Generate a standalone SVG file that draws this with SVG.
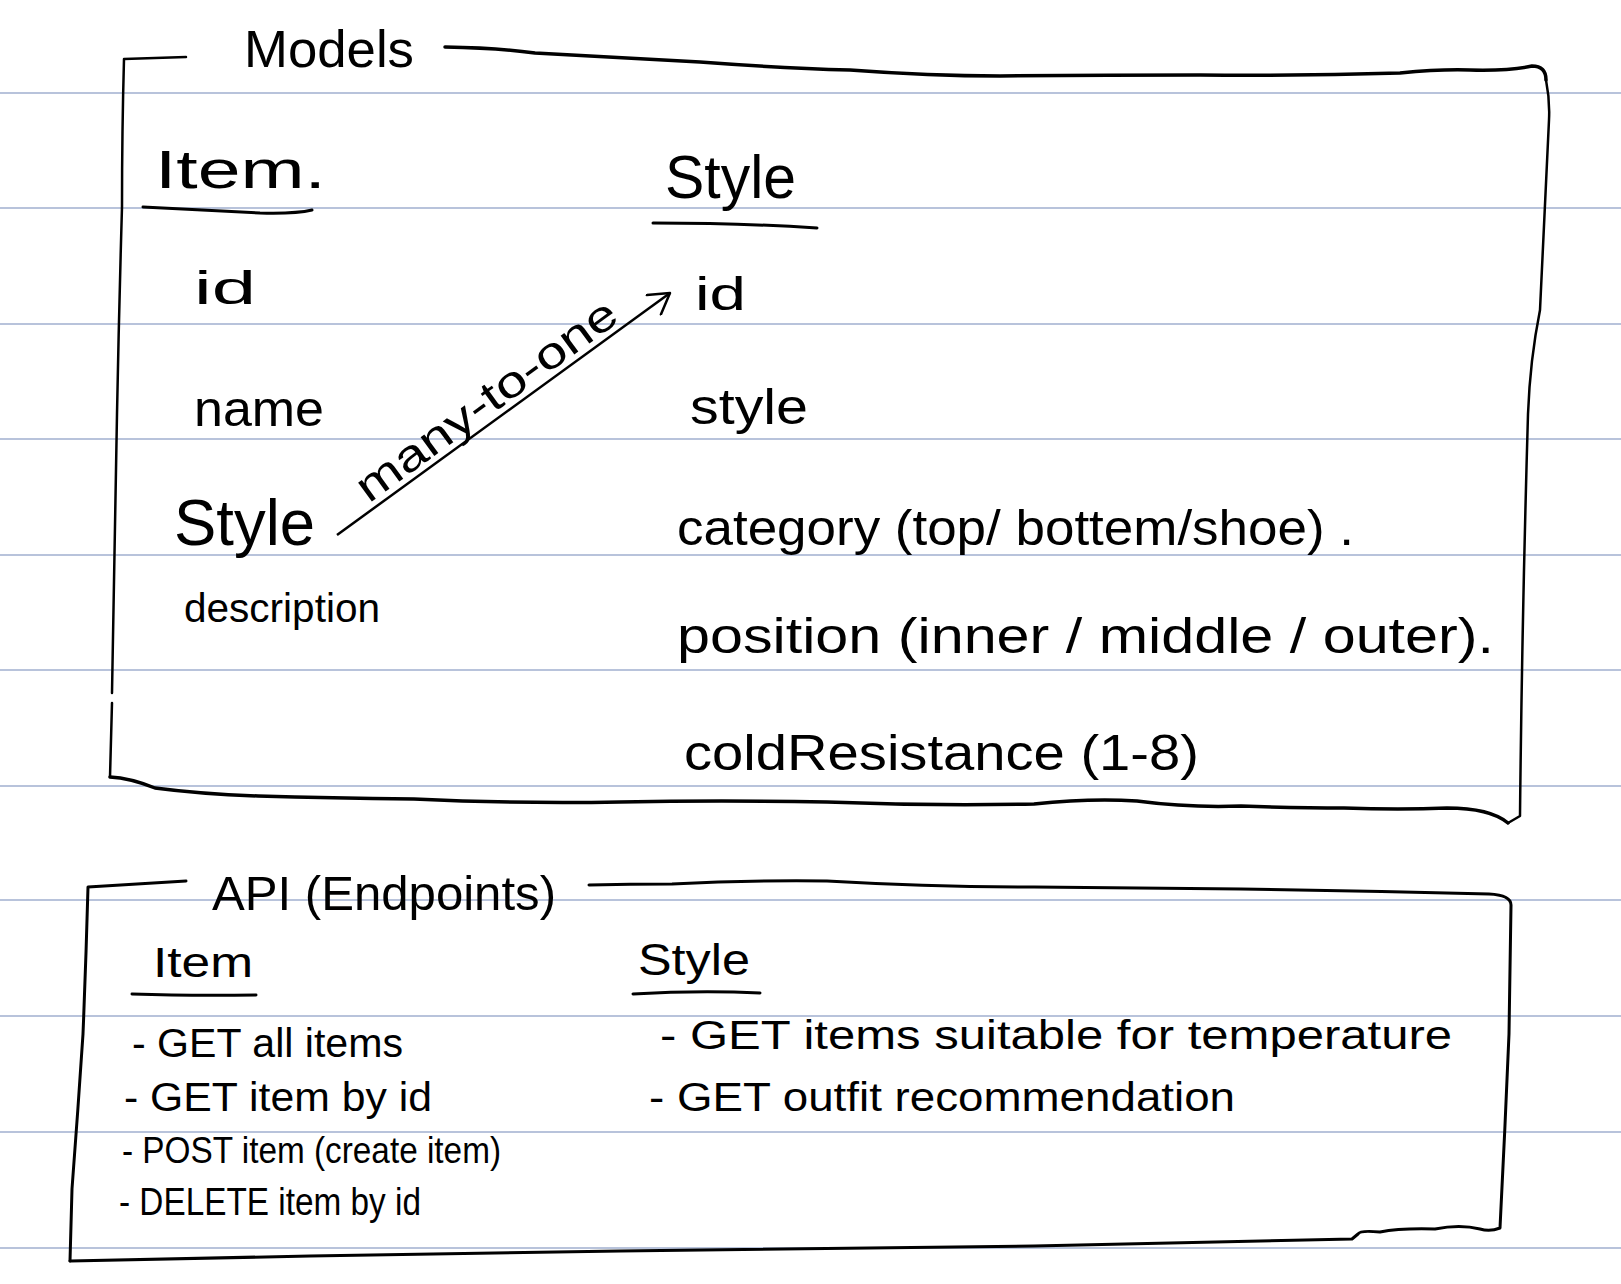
<svg xmlns="http://www.w3.org/2000/svg" width="1621" height="1284" viewBox="0 0 1621 1284">
<style>
.rule{stroke:#b8c3db;stroke-width:2}
.frame{fill:none;stroke:#000;stroke-linecap:round;stroke-linejoin:round}
.t{font-family:"Liberation Sans","DejaVu Sans",sans-serif;fill:#000}
.ul{fill:none;stroke:#000;stroke-width:3;stroke-linecap:round}
</style>
<defs>
<marker id="open" viewBox="0 0 26 26" refX="24" refY="13" markerWidth="26" markerHeight="26" markerUnits="userSpaceOnUse" orient="auto">
<path d="M4,1 L24,13 L4,25" fill="none" stroke="#000" stroke-width="2.5" stroke-linecap="round" stroke-linejoin="round"/>
</marker>
</defs>
<rect width="1621" height="1284" fill="#fff"/>
<g id="ruled-lines">
<line class="rule" x1="0" y1="93" x2="1621" y2="93"/>
<line class="rule" x1="0" y1="208" x2="1621" y2="208"/>
<line class="rule" x1="0" y1="324" x2="1621" y2="324"/>
<line class="rule" x1="0" y1="439" x2="1621" y2="439"/>
<line class="rule" x1="0" y1="555" x2="1621" y2="555"/>
<line class="rule" x1="0" y1="670" x2="1621" y2="670"/>
<line class="rule" x1="0" y1="786" x2="1621" y2="786"/>
<line class="rule" x1="0" y1="900" x2="1621" y2="900"/>
<line class="rule" x1="0" y1="1016" x2="1621" y2="1016"/>
<line class="rule" x1="0" y1="1132" x2="1621" y2="1132"/>
<line class="rule" x1="0" y1="1248" x2="1621" y2="1248"/>
</g>
<g id="models">
<path class="frame" stroke-width="2.5" d="M186,57 L124,59 Q122,130 122,207 Q119,310 117,414 Q114,560 112,693"/>
<path class="frame" stroke-width="2.5" d="M112,703 Q111,740 110,777"/>
<path class="frame" stroke-width="3.5" d="M445,47 Q500,48 535,53 Q620,58 700,62 Q780,68 850,70 Q930,76 1000,76 Q1100,75 1200,75 Q1300,76 1400,73 Q1440,69 1470,70 Q1510,71 1532,66 Q1546,66 1546,80"/>
<path class="frame" stroke-width="2.5" d="M1546,80 Q1550,100 1549,120 Q1545,210 1540,310 Q1530,360 1528,414 Q1522,620 1520,816 L1508,823"/>
<path class="frame" stroke-width="3.5" d="M110,777 Q130,778 155,788 Q200,794 258,796 Q330,798 414,799 Q520,804 620,802 Q720,800 827,802 Q930,806 1034,804 Q1090,798 1137,801 Q1190,808 1241,806 Q1300,808 1344,808 Q1400,810 1447,808 Q1490,808 1508,823"/>
<text class="t" x="244" y="67" font-size="52" textLength="170" lengthAdjust="spacingAndGlyphs">Models</text>
</g>
<g id="item-model">
<text class="t" x="155" y="188" font-size="54" textLength="171" lengthAdjust="spacingAndGlyphs">Item.</text>
<path class="ul" d="M143,207 Q200,210 260,213 Q295,214 312,210"/>
<text class="t" x="194" y="304" font-size="46" textLength="62" lengthAdjust="spacingAndGlyphs">id</text>
<text class="t" x="194" y="426" font-size="50" textLength="130" lengthAdjust="spacingAndGlyphs">name</text>
<text class="t" x="174" y="545" font-size="64" textLength="141" lengthAdjust="spacingAndGlyphs">Style</text>
<text class="t" x="184" y="622" font-size="40" textLength="196" lengthAdjust="spacingAndGlyphs">description</text>
</g>
<g id="style-model">
<text class="t" x="665" y="198" font-size="62" textLength="131" lengthAdjust="spacingAndGlyphs">Style</text>
<path class="ul" d="M653,223 Q740,223 817,228"/>
<text class="t" x="695" y="310" font-size="46" textLength="51" lengthAdjust="spacingAndGlyphs">id</text>
<text class="t" x="690" y="424" font-size="50" textLength="118" lengthAdjust="spacingAndGlyphs">style</text>
<text class="t" x="677" y="545" font-size="50" textLength="677" lengthAdjust="spacingAndGlyphs">category (top/ bottem/shoe) .</text>
<text class="t" x="677" y="653" font-size="50" textLength="817" lengthAdjust="spacingAndGlyphs">position (inner / middle / outer).</text>
<text class="t" x="684" y="770" font-size="50" textLength="515" lengthAdjust="spacingAndGlyphs">coldResistance (1-8)</text>
</g>
<g id="connectors">
<path d="M337,535 L670,293" fill="none" stroke="#000" stroke-width="2.5" marker-end="url(#open)"/>
<text class="t" x="0" y="0" font-size="44" text-anchor="middle" textLength="312" lengthAdjust="spacingAndGlyphs" transform="translate(495,412) rotate(-36)">many-to-one</text>
</g>
<g id="api">
<path class="frame" stroke-width="3" d="M186,881 Q140,884 88,887 Q86,960 83,1034 Q78,1110 72,1189 Q71,1230 70,1261"/>
<path class="frame" stroke-width="3" d="M589,885 Q630,884 672,884 Q750,880 827,881 Q930,887 1034,887 Q1140,888 1241,889 Q1370,891 1489,894 Q1511,895 1511,905 Q1510,970 1509,1034 Q1505,1130 1500,1228 Q1490,1232 1480,1229 Q1460,1224 1435,1229 Q1400,1228 1380,1232 Q1360,1230 1358,1234 L1352,1239 Q1200,1242 1034,1246 Q830,1249 620,1251 Q465,1254 310,1256 Q190,1258 70,1261"/>
<text class="t" x="212" y="910" font-size="48" textLength="344" lengthAdjust="spacingAndGlyphs">API (Endpoints)</text>
</g>
<g id="item-api">
<text class="t" x="153" y="977" font-size="42" textLength="100" lengthAdjust="spacingAndGlyphs">Item</text>
<path class="ul" d="M132,994 Q190,996 256,995"/>
<text class="t" x="132" y="1057" font-size="40" textLength="271" lengthAdjust="spacingAndGlyphs">- GET all items</text>
<text class="t" x="124" y="1111" font-size="40" textLength="308" lengthAdjust="spacingAndGlyphs">- GET item by id</text>
<text class="t" x="122" y="1163" font-size="36" textLength="379" lengthAdjust="spacingAndGlyphs">- POST item (create item)</text>
<text class="t" x="119" y="1215" font-size="38" textLength="302" lengthAdjust="spacingAndGlyphs">- DELETE item by id</text>
</g>
<g id="style-api">
<text class="t" x="638" y="975" font-size="44" textLength="112" lengthAdjust="spacingAndGlyphs">Style</text>
<path class="ul" d="M633,994 Q700,990 760,993"/>
<text class="t" x="660" y="1049" font-size="40" textLength="792" lengthAdjust="spacingAndGlyphs">- GET items suitable for temperature</text>
<text class="t" x="649" y="1111" font-size="40" textLength="586" lengthAdjust="spacingAndGlyphs">- GET outfit recommendation</text>
</g>
</svg>
